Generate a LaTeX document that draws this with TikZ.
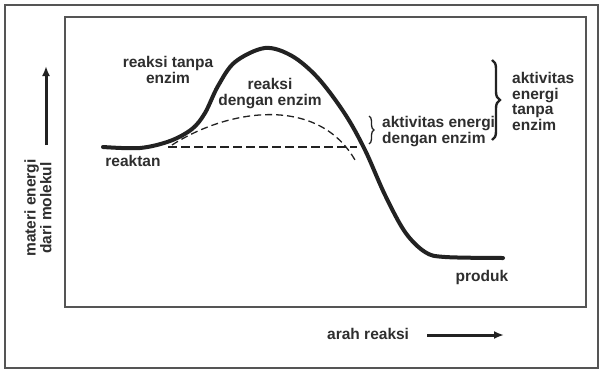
\documentclass[tikz,border=0pt]{standalone}
\usepackage{fontspec}
\setmainfont{Liberation Sans}
\usetikzlibrary{arrows.meta,decorations.pathreplacing}
\definecolor{ink}{HTML}{222222}
\definecolor{txt}{HTML}{2E2E2E}
\definecolor{frame}{HTML}{555555}
\tikzset{
  lbl/.style={font=\bfseries\fontsize{15.5}{15.7}\selectfont, text=txt, inner sep=0pt, align=left},
  lblc/.style={lbl, align=center},
  framebox/.style={draw=frame, line width=2pt},
  curve/.style={draw=ink, line width=4pt, line cap=round},
  dashthin/.style={draw=ink, line width=1.3pt, dash pattern=on 7pt off 4pt},
  dashthick/.style={draw=ink, line width=2pt, dash pattern=on 9pt off 4pt},
  axisarrow/.style={draw=ink, line width=3pt, -{Latex[length=10pt,width=8pt]}},
  bracesmall/.style={draw=ink, line width=1.3pt, decorate, decoration={brace, amplitude=5pt}},
  bracebig/.style={draw=ink, line width=2.4pt, decorate, decoration={brace, amplitude=8pt}}
}
\begin{document}
\begin{tikzpicture}[x=1pt,y=-1pt]
\useasboundingbox (0,0) rectangle (602,372);
\fill[white] (0,0) rectangle (602,372);
% frames
\draw[framebox] (5,5) rectangle (598,368);
\draw[framebox] (65,17) rectangle (586,307);
% energy curve
\draw[curve] plot[smooth, tension=0.55] coordinates {
  (103,147) (140,148) (170,141) (192,129) (205,113) (218,86) (235,62) (265,48)
  (292,56) (318,78) (345,114) (365,150) (385,195) (405,232) (425,252) (445,257) (503,258)};
% enzyme curve (dashed)
\coordinate (ds) at (172,145);
\coordinate (de) at (355,160);
\draw[dashthin] (ds) .. controls (230,108) and (318,96) .. (de);
% dashed baseline
\coordinate (hs) at (168,147);
\coordinate (he) at (357,147);
\draw[dashthick] (hs) -- (he);
% braces
\coordinate (bs1) at (369,116);
\coordinate (bs2) at (369,144);
\draw[bracesmall] (bs1) -- (bs2);
\coordinate (bb1) at (492,60);
\coordinate (bb2) at (492,140);
\draw[bracebig] (bb1) -- (bb2);
% labels
\node[lblc, anchor=north] (rtanpa) at (168,56) {reaksi tanpa\\enzim};
\node[lblc, anchor=north] (rdengan) at (270,78) {reaksi\\dengan enzim};
\node[lbl, anchor=base] (reaktan) at (133,166) {reaktan};
\node[lbl, anchor=base] (produk) at (482,281) {produk};
\node[lbl, anchor=north west] (aed) at (382,116) {aktivitas energi\\dengan enzim};
\node[lbl, anchor=north west] (aet) at (512,72) {aktivitas\\energi\\tanpa\\enzim};
% axes
\node[lbl, anchor=base west] (arah) at (327,339) {arah reaksi};
\coordinate (xa1) at (427,335);
\coordinate (xa2) at (504,335);
\draw[axisarrow] (xa1) -- (xa2);
\coordinate (ya1) at (46,145);
\coordinate (ya2) at (46,66);
\draw[axisarrow] (ya1) -- (ya2);
\node[lblc, rotate=90, anchor=center] (ylab) at (38,208) {materi energi\\dari molekul};
\end{tikzpicture}
\end{document}
